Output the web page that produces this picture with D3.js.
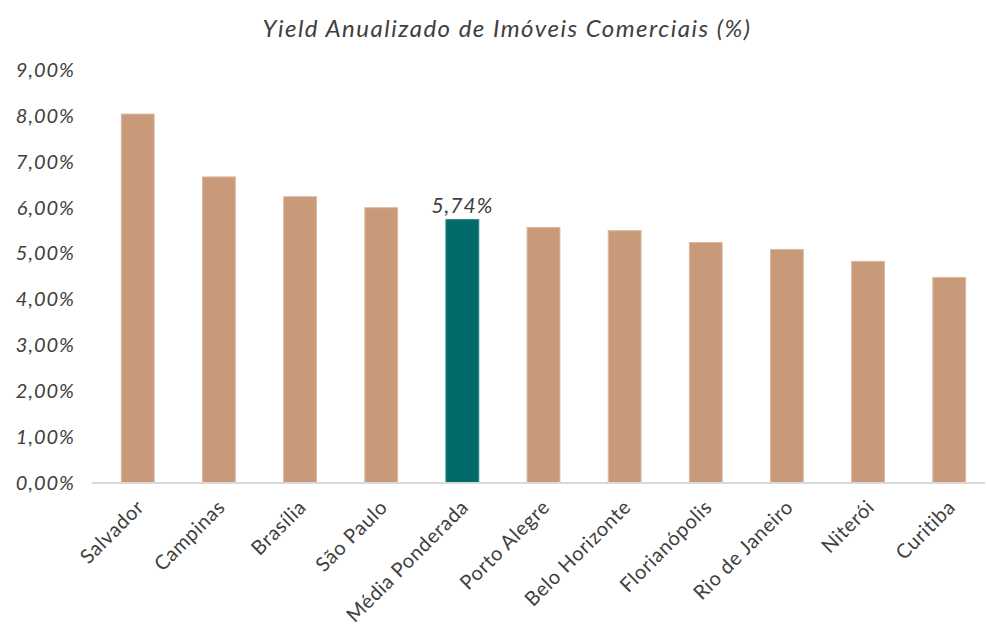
<!DOCTYPE html>
<meta charset="utf-8">
<html>
<head>
<script src="https://d3js.org/d3.v7.min.js"></script>
<style>
  body { margin: 0; background: #fff; }
  text { font-family: Lato, "Open Sans", sans-serif; fill: #404040; }
</style>
</head>
<body>
<div id="my_dataviz"></div>
<script>

// data
var cities = ["Salvador", "Campinas", "Brasília", "São Paulo", "Média Ponderada", "Porto Alegre",
              "Belo Horizonte", "Florianópolis", "Rio de Janeiro", "Niterói", "Curitiba"];
var yields = [8.04, 6.67, 6.24, 6.00, 5.74, 5.57, 5.50, 5.24, 5.09, 4.83, 4.48];
var yTicks = [0, 1, 2, 3, 4, 5, 6, 7, 8, 9];
var highlight = "Média Ponderada";

var W = 986, H = 631;
var margin = {top: 70, right: 0, bottom: 148, left: 97},
    width = 990 - margin.left,
    height = 483 - margin.top;

var svg = d3.select("#my_dataviz")
  .append("svg")
    .attr("width", W)
    .attr("height", H);

var g = svg.append("g")
    .attr("transform", "translate(" + margin.left + "," + margin.top + ")");

var fmt = function(v) { return v.toFixed(2).replace(".", ",") + "%"; };

// title
svg.append("text")
  .attr("x", 507)
  .attr("y", 37)
  .attr("text-anchor", "middle")
  .style("font-size", "24px")
  .style("font-style", "italic")
  .style("letter-spacing", "1.5px")
  .text("Yield Anualizado de Imóveis Comerciais (%)");

var x = d3.scaleBand()
  .domain(cities)
  .range([0, width])
  .paddingInner(0.595)
  .paddingOuter(0.3);

var y = d3.scaleLinear()
  .domain([0, 9])
  .range([height, 0]);

// y labels (no axis line)
var yAxis = g.append("g")
  .call(d3.axisLeft(y).tickValues(yTicks).tickFormat(fmt).tickSize(0).tickPadding(22));
yAxis.select(".domain").remove();
yAxis.selectAll("text")
  .style("font-size", "20px")
  .style("font-style", "italic")
  .style("letter-spacing", "1px")
  .style("font-family", "Lato, 'Open Sans', sans-serif")
  .attr("fill", "#404040");

// bars
g.selectAll("rect.bar")
  .data(cities)
  .enter()
  .append("rect")
    .attr("class", "bar")
    .attr("x", function(d) { return x(d); })
    .attr("y", function(d, i) { return y(yields[i]); })
    .attr("width", x.bandwidth())
    .attr("height", function(d, i) { return height - y(yields[i]); })
    .attr("fill", function(d) { return d === highlight ? "#006B68" : "#C99A79"; })
    .attr("stroke", function(d) { return d === highlight ? "#2E8482" : "#DDBBA2"; })
    .attr("stroke-width", 1);

// x axis
var xAxis = g.append("g")
  .attr("transform", "translate(0," + height + ")")
  .call(d3.axisBottom(x).tickSize(0).tickPadding(12));
xAxis.select(".domain")
  .attr("stroke", "#D9D9D9")
  .attr("stroke-width", 2)
  .attr("d", "M-5,0H" + (888));
xAxis.selectAll("text")
  .style("font-size", "20px")
  .style("letter-spacing", "0.6px")
  .style("font-family", "Lato, 'Open Sans', sans-serif")
  .attr("fill", "#404040")
  .attr("text-anchor", "end")
  .attr("dy", "0.35em")
  .attr("transform", "translate(-6,12) rotate(-45)");

// data label on highlighted bar
var hi = cities.indexOf(highlight);
g.append("text")
  .attr("x", x(highlight) + x.bandwidth() / 2)
  .attr("y", y(yields[hi]) - 7)
  .attr("text-anchor", "middle")
  .style("font-size", "21px")
  .style("font-style", "italic")
  .style("letter-spacing", "1px")
  .text(fmt(yields[hi]));

</script>
</body>
</html>
